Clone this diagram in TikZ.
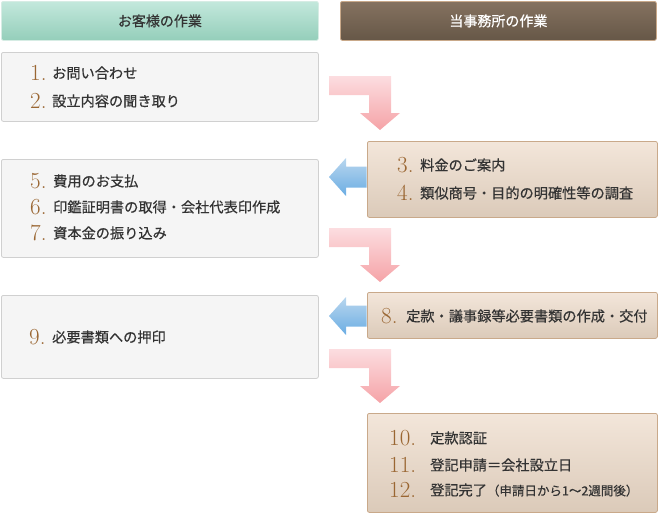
\documentclass[tikz,border=0pt]{standalone}
\usepackage{fontspec}
\newfontfamily\jp[FakeBold=0.5]{Noto Sans CJK JP}
\definecolor{greentop}{HTML}{C3E8DC}
\definecolor{greenbot}{HTML}{94CEBA}
\definecolor{greenline}{HTML}{D6ECE4}
\definecolor{browntop}{HTML}{857260}
\definecolor{brownbot}{HTML}{665747}
\definecolor{tanline}{HTML}{C9A98A}
\definecolor{beigetop}{HTML}{F3E6DA}
\definecolor{beigebot}{HTML}{DBCAB9}
\definecolor{greyfill}{HTML}{F5F5F5}
\definecolor{greyline}{HTML}{D0D0D0}
\definecolor{pinktop}{HTML}{FCDDE0}
\definecolor{pinkbot}{HTML}{F5A3A7}
\definecolor{bluetop}{HTML}{B8D6EE}
\definecolor{bluebot}{HTML}{6BADE3}
\definecolor{numcol}{HTML}{9A6632}
\definecolor{txtcol}{HTML}{333333}
\begin{document}
\begin{tikzpicture}[x=1pt, y=-1pt, line join=round,
    head/.style={rounded corners=2pt, line width=0.8pt, minimum width=317pt, minimum height=39pt, anchor=north west, font=\jp\fontsize{14}{14}\selectfont},
    custbox/.style={draw=greyline, fill=greyfill, rounded corners=2pt, line width=0.8pt, minimum width=317pt, anchor=north west},
    offbox/.style={draw=tanline, top color=beigetop, bottom color=beigebot, rounded corners=2pt, line width=0.8pt, minimum width=290pt, anchor=north west},
    num/.style={anchor=west, inner sep=0pt, text=numcol, font=\fontsize{23}{23}\selectfont},
    txt/.style={anchor=west, inner sep=0pt, text=txtcol, font=\jp\fontsize{14.2}{15}\selectfont}]
\useasboundingbox (0,0) rectangle (658,514);
% headings
\node[head, draw=greenline, top color=greentop, bottom color=greenbot, text=txtcol] (hdcust) at (1,1) {お客様の作業};
\node[head, draw=tanline, top color=browntop, bottom color=brownbot, text=white, minimum width=316pt] (hdoffice) at (340,1) {当事務所の作業};
% boxes
\node[custbox, minimum height=69pt] (bxa) at (1,52) {};
\node[offbox, minimum height=76pt] (bxb) at (367,141) {};
\node[custbox, minimum height=98pt] (bxc) at (1,159) {};
\node[offbox, minimum height=46pt] (bxd) at (367,292) {};
\node[custbox, minimum height=83pt] (bxe) at (1,295) {};
\node[offbox, minimum height=99pt] (bxf) at (367,413) {};
% arrows
\foreach \y in {76,228,349}
  \shade[top color=pinktop, bottom color=pinkbot] (329,\y) -- (391,\y) -- (391,\y+37) -- (400,\y+37) -- (380,\y+54) -- (360,\y+37) -- (369,\y+37) -- (369,\y+19) -- (329,\y+19) -- cycle;
\foreach \y in {177,316}
  \shade[top color=bluetop, bottom color=bluebot] (329,\y) -- (346,\y-19) -- (346,\y-10.5) -- (366.5,\y-10.5) -- (366.5,\y+10.5) -- (346,\y+10.5) -- (346,\y+19) -- cycle;
% steps
\path
(30,73) node[num] (n1) {1.}
(52,73) node[txt] (t1) {お問い合わせ}
(30,101) node[num] (n2) {2.}
(52,101) node[txt] (t2) {設立内容の聞き取り}
(397,165) node[num] (n3) {3.}
(420,165) node[txt] (t3) {料金のご案内}
(397,193) node[num] (n4) {4.}
(420,193) node[txt] (t4) {類似商号・目的の明確性等の調査}
(30,181) node[num] (n5) {5.}
(53,181) node[txt] (t5) {費用のお支払}
(30,207) node[num] (n6) {6.}
(53,207) node[txt] (t6) {印鑑証明書の取得・会社代表印作成}
(30,233) node[num] (n7) {7.}
(53,233) node[txt] (t7) {資本金の振り込み}
(381,316) node[num] (n8) {8.}
(406,316) node[txt] (t8) {定款・議事録等必要書類の作成・交付}
(29,337) node[num] (n9) {9.}
(52,337) node[txt] (t9) {必要書類への押印}
(389,438) node[num] (n10) {10.}
(430,438) node[txt] (t10) {定款認証}
(389,465) node[num] (n11) {11.}
(430,465) node[txt] (t11) {登記申請＝会社設立日}
(389,490) node[num] (n12) {12.}
(430,490) node[txt] (t12) {登記完了\fontsize{12.5}{13}\selectfont（申請日から1～2週間後）};
\end{tikzpicture}
\end{document}
